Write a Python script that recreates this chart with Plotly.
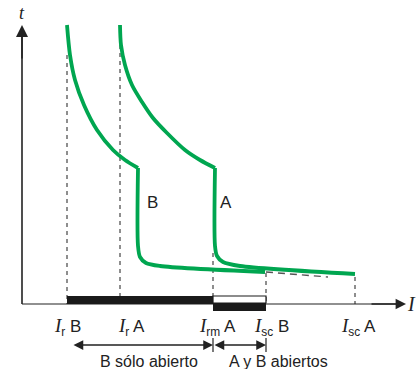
import plotly.graph_objects as go

# ---- data (diagram coordinates: x = current axis, y = time axis, screen-like units) ----
curveB_x = [67, 70, 75, 84, 97, 113, 125, 138]
curveB_y = [25, 55, 80, 105, 130, 150, 160, 168]
curveB_tail_x = [138, 138, 140, 146, 160, 265]
curveB_tail_y = [168, 246, 257, 263, 266, 272]

curveA_x = [120, 121, 125, 132, 142, 153, 167, 185, 200, 215]
curveA_y = [25, 45, 65, 85, 102, 118, 133, 150, 160, 168]
curveA_tail_x = [215, 215, 217, 223, 240, 355]
curveA_tail_y = [168, 246, 256, 262, 266, 274]

ext_x = [266, 328]
ext_y = [272, 277]

# vertical dashed markers: x position, top y
mark_x = [67, 120, 213, 266, 355]
mark_top = [55, 45, 253, 273, 277]
axis_y = 304
axis_x0 = 22

# tick labels (centre x)
tick_labels = ["<i>I</i><sub>r</sub> B", "<i>I</i><sub>r</sub> A", "<i>I</i><sub>rm</sub> A",
               "<i>I</i><sub>sc</sub> B", "<i>I</i><sub>sc</sub> A"]
tick_label_x = [67, 131, 217, 271, 358]

# bars
barB = [67, 213]
barAB = [213, 266]

region_labels = ["B sólo abierto", "A y B abiertos"]
region_x = [149, 278]

GREEN = "#00a650"
SANS = "Liberation Sans, Arial, sans-serif"
SERIF = "Liberation Serif, Times New Roman, serif"

def fmt(s):
    return s.replace("<i>I</i>", "<span style='font-family:Liberation Serif;font-style:italic;font-size:19px'>I</span>")

fig = go.Figure()

# dashed marker lines
for mx, mt in zip(mark_x, mark_top):
    fig.add_trace(go.Scatter(x=[mx, mx], y=[mt, axis_y], mode="lines",
                             line=dict(color="#444", width=1.2, dash="4px,4px"),
                             hoverinfo="skip"))
fig.add_trace(go.Scatter(x=ext_x, y=ext_y, mode="lines",
                         line=dict(color="#555", width=1.4, dash="7px,5px"), hoverinfo="skip"))

# curves
for xs, ys in [(curveB_x, curveB_y), (curveB_tail_x, curveB_tail_y),
               (curveA_x, curveA_y), (curveA_tail_x, curveA_tail_y)]:
    fig.add_trace(go.Scatter(x=xs, y=ys, mode="lines",
                             line=dict(color=GREEN, width=3.8, shape="spline", smoothing=0.8),
                             hoverinfo="skip"))

shapes = []
# x axis line
shapes.append(dict(type="line", x0=axis_x0, x1=400, y0=axis_y, y1=axis_y,
                   line=dict(color="#222", width=1.2)))
# y axis line
shapes.append(dict(type="line", x0=axis_x0, x1=axis_x0, y0=axis_y, y1=35,
                   line=dict(color="#222", width=1.6)))
# bars
shapes.append(dict(type="rect", x0=barB[0], x1=barB[1], y0=296, y1=304,
                   fillcolor="#1a1a1a", line=dict(width=0)))
shapes.append(dict(type="rect", x0=barAB[0], x1=barAB[1], y0=296, y1=303,
                   fillcolor="white", line=dict(color="#1a1a1a", width=1.2)))
shapes.append(dict(type="rect", x0=barAB[0], x1=barAB[1], y0=303, y1=311,
                   fillcolor="#1a1a1a", line=dict(width=0)))
# separator ticks on arrow row
for tx in [barB[1], barAB[1]]:
    shapes.append(dict(type="line", x0=tx, x1=tx, y0=338, y1=352,
                       line=dict(color="#222", width=1.2)))

annotations = []
# axis arrows
annotations.append(dict(x=axis_x0, y=25, ax=axis_x0, ay=60, xref="x", yref="y", axref="x", ayref="y",
                        showarrow=True, arrowhead=2, arrowsize=1.6, arrowwidth=1.5, arrowcolor="#222", text=""))
annotations.append(dict(x=406, y=axis_y, ax=370, ay=axis_y, xref="x", yref="y", axref="x", ayref="y",
                        showarrow=True, arrowhead=2, arrowsize=1.6, arrowwidth=1.3, arrowcolor="#222", text=""))
annotations.append(dict(x=22, y=13, text="<i>t</i>", showarrow=False, xref="x", yref="y",
                        font=dict(family=SERIF, size=18, color="#222")))
annotations.append(dict(x=411, y=axis_y, text="<i>I</i>", showarrow=False, xref="x", yref="y",
                        font=dict(family=SERIF, size=20, color="#222")))
# curve labels
annotations.append(dict(x=152, y=202, text="B", showarrow=False, font=dict(family=SANS, size=17, color="#222")))
annotations.append(dict(x=226, y=202, text="A", showarrow=False, font=dict(family=SANS, size=17, color="#222")))
# tick labels
for lx, lt in zip(tick_label_x, tick_labels):
    annotations.append(dict(x=lx, y=327, text=fmt(lt), showarrow=False,
                            font=dict(family=SANS, size=17, color="#222")))
# double arrows
for a, b in [(72, barB[1]), (barAB[0], barAB[1])]:
    annotations.append(dict(x=b, y=345, ax=a, ay=345, xref="x", yref="y", axref="x", ayref="y",
                            showarrow=True, arrowhead=2, startarrowhead=2, arrowside="end+start",
                            arrowsize=1.3, startarrowsize=1.3, arrowwidth=1.5, arrowcolor="#222", text=""))
for rx, rt in zip(region_x, region_labels):
    annotations.append(dict(x=rx, y=361, text=rt, showarrow=False,
                            font=dict(family=SANS, size=16, color="#222")))

fig.update_layout(
    width=417, height=369, margin=dict(l=0, r=0, t=0, b=0),
    paper_bgcolor="white", plot_bgcolor="white", showlegend=False,
    xaxis=dict(range=[0, 417], visible=False, fixedrange=True),
    yaxis=dict(range=[369, 0], visible=False, fixedrange=True),
    shapes=shapes, annotations=annotations,
)
fig.write_html("out.html", config={"displayModeBar": False},
               post_script="document.body.style.margin='0';document.body.style.overflow='hidden';")
